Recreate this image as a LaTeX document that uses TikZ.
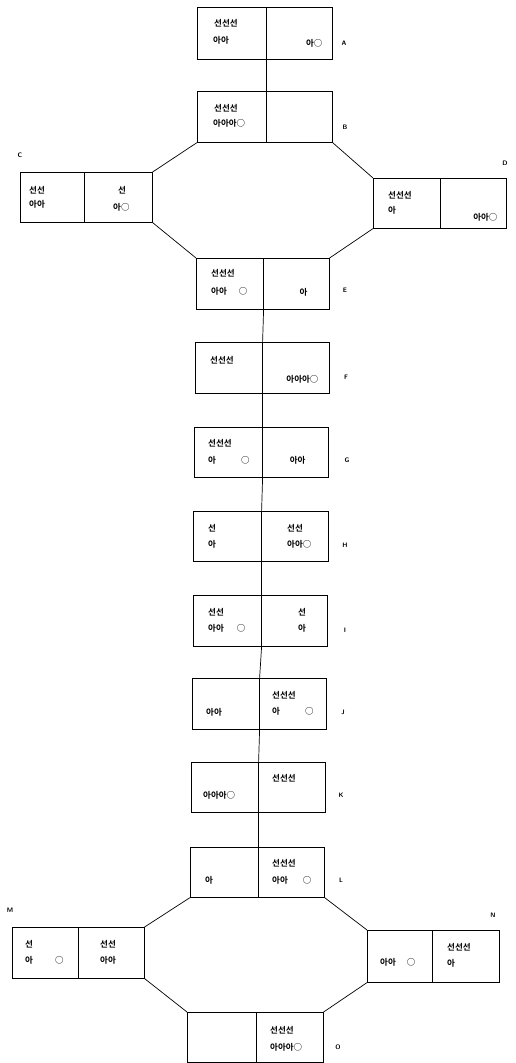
\documentclass[tikz,border=0pt]{standalone}
\usepackage{fontspec}
\newfontfamily\cjk{Noto Sans CJK KR}[BoldFont={Noto Sans CJK KR Bold}]
\begin{document}
\begin{tikzpicture}[x=1pt,y=-1pt,
  cell/.style={draw, line width=0.6pt, inner sep=0pt, anchor=north west},
  txt/.style={font=\cjk\bfseries\fontsize{8.5}{10}\selectfont, inner sep=0pt},
  tl/.style={txt, anchor=west},
  tr/.style={txt, anchor=east},
  lab/.style={font=\sffamily\bfseries\fontsize{6.5}{7}\selectfont, inner sep=0pt},
  conn/.style={line width=0.7pt}]
\useasboundingbox (0,0) rectangle (515,1063);
\newcommand\ci{\char"25CB}
% ---------- boxes ----------
% A
\node[cell, minimum width=69pt, minimum height=52pt] (Al) at (197,7) {};
\node[cell, minimum width=66pt, minimum height=52pt] (Ar) at (266,7) {};
% B
\node[cell, minimum width=69pt, minimum height=51pt] (Bl) at (197,91) {};
\node[cell, minimum width=66pt, minimum height=51pt] (Br) at (266,91) {};
% C
\node[cell, minimum width=64pt, minimum height=50pt] (Cl) at (20,172) {};
\node[cell, minimum width=68pt, minimum height=50pt] (Cr) at (84,172) {};
% D
\node[cell, minimum width=67pt, minimum height=50pt] (Dl) at (373,178) {};
\node[cell, minimum width=66pt, minimum height=50pt] (Dr) at (440,178) {};
% E
\node[cell, minimum width=67pt, minimum height=51pt] (El) at (196,258) {};
\node[cell, minimum width=66pt, minimum height=51pt] (Er) at (263,258) {};
% F
\node[cell, minimum width=67pt, minimum height=51pt] (Fl) at (195,342) {};
\node[cell, minimum width=67pt, minimum height=51pt] (Fr) at (262,342) {};
% G
\node[cell, minimum width=68pt, minimum height=50pt] (Gl) at (194,427) {};
\node[cell, minimum width=66pt, minimum height=50pt] (Gr) at (262,427) {};
% H
\node[cell, minimum width=68pt, minimum height=50pt] (Hl) at (193,511) {};
\node[cell, minimum width=67pt, minimum height=50pt] (Hr) at (261,511) {};
% I
\node[cell, minimum width=68pt, minimum height=51pt] (Il) at (193,595) {};
\node[cell, minimum width=66pt, minimum height=51pt] (Ir) at (261,595) {};
% J
\node[cell, minimum width=67pt, minimum height=51pt] (Jl) at (192,678) {};
\node[cell, minimum width=67pt, minimum height=51pt] (Jr) at (259,678) {};
% K
\node[cell, minimum width=67pt, minimum height=50pt] (Kl) at (191,762) {};
\node[cell, minimum width=67pt, minimum height=50pt] (Kr) at (258,762) {};
% L
\node[cell, minimum width=68pt, minimum height=50pt] (Ll) at (190,847) {};
\node[cell, minimum width=66pt, minimum height=50pt] (Lr) at (258,847) {};
% M
\node[cell, minimum width=66pt, minimum height=51pt] (Ml) at (12,927) {};
\node[cell, minimum width=66pt, minimum height=51pt] (Mr) at (78,927) {};
% N
\node[cell, minimum width=65pt, minimum height=52pt] (Nl) at (367,930) {};
\node[cell, minimum width=67pt, minimum height=52pt] (Nr) at (432,930) {};
% O
\node[cell, minimum width=69pt, minimum height=50pt] (Ol) at (187,1012) {};
\node[cell, minimum width=67pt, minimum height=50pt] (Or) at (256,1012) {};
% ---------- connectors ----------
\draw[conn] (Al.south east) -- (Bl.north east);
\draw[conn] (Bl.south west) -- (Cr.north east);
\draw[conn] (Cr.south east) -- (El.north west);
\draw[conn] (Br.south east) -- (Dl.north west);
\draw[conn] (Dl.south west) -- (Er.north east);
\draw[conn] (El.south east) -- (Fl.north east);
\draw[conn] (Fl.south east) -- (Gl.north east);
\draw[conn] (Gl.south east) -- (Hl.north east);
\draw[conn] (Hl.south east) -- (Il.north east);
\draw[conn] (Il.south east) -- (Jl.north east);
\draw[conn] (Jl.south east) -- (Kl.north east);
\draw[conn] (Kl.south east) -- (Ll.north east);
\draw[conn] (Ll.south west) -- (Mr.north east);
\draw[conn] (Mr.south east) -- (Ol.north west);
\draw[conn] (Lr.south east) -- (Nl.north west);
\draw[conn] (Nl.south west) -- (Or.north east);
% ---------- texts ----------
% A
\node[tl] (Al1) at ([shift={(17pt,-16pt)}]Al.north west) {선선선};
\node[tl] (Al2) at ([shift={(16pt,-33pt)}]Al.north west) {아아};
\node[tr] (Ar2) at ([shift={(-10pt,-36pt)}]Ar.north east) {아\ci};
% B
\node[tl] (Bl1) at ([shift={(17pt,-17pt)}]Bl.north west) {선선선};
\node[tl] (Bl2) at ([shift={(16pt,-32pt)}]Bl.north west) {아아아\ci};
% C
\node[tl] (Cl1) at ([shift={(9pt,-18pt)}]Cl.north west) {선선};
\node[tl] (Cl2) at ([shift={(9pt,-32pt)}]Cl.north west) {아아};
\node[tl] (Cr1) at ([shift={(34pt,-18pt)}]Cr.north west) {선};
\node[tl] (Cr2) at ([shift={(29pt,-35pt)}]Cr.north west) {아\ci};
% D
\node[tl] (Dl1) at ([shift={(15pt,-17pt)}]Dl.north west) {선선선};
\node[tl] (Dl2) at ([shift={(15pt,-32pt)}]Dl.north west) {아};
\node[tr] (Dr2) at ([shift={(-9pt,-39pt)}]Dr.north east) {아아\ci};
% E
\node[tl] (El1) at ([shift={(15pt,-15pt)}]El.north west) {선선선};
\node[tl] (El2) at ([shift={(15pt,-33pt)}]El.north west) {아아\hspace{12pt}\ci};
\node[tr] (Er2) at ([shift={(-22pt,-34pt)}]Er.north east) {아};
% F
\node[tl] (Fl1) at ([shift={(15pt,-18pt)}]Fl.north west) {선선선};
\node[tr] (Fr2) at ([shift={(-11pt,-37pt)}]Fr.north east) {아아아\ci};
% G
\node[tl] (Gl1) at ([shift={(14pt,-16pt)}]Gl.north west) {선선선};
\node[tl] (Gl2) at ([shift={(14pt,-33pt)}]Gl.north west) {아\hspace{25pt}\ci};
\node[tr] (Gr2) at ([shift={(-23pt,-33pt)}]Gr.north east) {아아};
% H
\node[tl] (Hl1) at ([shift={(15pt,-17pt)}]Hl.north west) {선};
\node[tl] (Hl2) at ([shift={(15pt,-33pt)}]Hl.north west) {아};
\node[tl] (Hr1) at ([shift={(26pt,-17pt)}]Hr.north west) {선선};
\node[tl] (Hr2) at ([shift={(26pt,-33pt)}]Hr.north west) {아아\ci};
% I
\node[tl] (Il1) at ([shift={(15pt,-17pt)}]Il.north west) {선선};
\node[tl] (Il2) at ([shift={(15pt,-33pt)}]Il.north west) {아아\hspace{13pt}\ci};
\node[tl] (Ir1) at ([shift={(37pt,-17pt)}]Ir.north west) {선};
\node[tl] (Ir2) at ([shift={(37pt,-33pt)}]Ir.north west) {아};
% J
\node[tl] (Jl2) at ([shift={(14pt,-34pt)}]Jl.north west) {아아};
\node[tl] (Jr1) at ([shift={(13pt,-17pt)}]Jr.north west) {선선선};
\node[tl] (Jr2) at ([shift={(13pt,-33pt)}]Jr.north west) {아\hspace{25pt}\ci};
% K
\node[tl] (Kl2) at ([shift={(12pt,-33pt)}]Kl.north west) {아아아\ci};
\node[tl] (Kr1) at ([shift={(14pt,-16pt)}]Kr.north west) {선선선};
% L
\node[tl] (Ll2) at ([shift={(15pt,-33pt)}]Ll.north west) {아};
\node[tl] (Lr1) at ([shift={(14pt,-16pt)}]Lr.north west) {선선선};
\node[tl] (Lr2) at ([shift={(14pt,-33pt)}]Lr.north west) {아아\hspace{15pt}\ci};
% M
\node[tl] (Ml1) at ([shift={(13pt,-17pt)}]Ml.north west) {선};
\node[tl] (Ml2) at ([shift={(13pt,-33pt)}]Ml.north west) {아\hspace{22pt}\ci};
\node[tl] (Mr1) at ([shift={(22pt,-17pt)}]Mr.north west) {선선};
\node[tl] (Mr2) at ([shift={(22pt,-33pt)}]Mr.north west) {아아};
% N
\node[tl] (Nl2) at ([shift={(13pt,-32pt)}]Nl.north west) {아아\hspace{11pt}\ci};
\node[tl] (Nr1) at ([shift={(15pt,-17pt)}]Nr.north west) {선선선};
\node[tl] (Nr2) at ([shift={(15pt,-33pt)}]Nr.north west) {아};
% O
\node[tl] (Or1) at ([shift={(14pt,-18pt)}]Or.north west) {선선선};
\node[tl] (Or2) at ([shift={(14pt,-35pt)}]Or.north west) {아아아\ci};
% ---------- letters ----------
\node[lab] (labA) at (344,43) {A};
\node[lab] (labB) at (345,127) {B};
\node[lab] (labC) at (20,155) {C};
\node[lab] (labD) at (505,163) {D};
\node[lab] (labE) at (345,290) {E};
\node[lab] (labF) at (346,377) {F};
\node[lab] (labG) at (347,460) {G};
\node[lab] (labH) at (345,545) {H};
\node[lab] (labI) at (345,630) {I};
\node[lab] (labJ) at (343,712) {J};
\node[lab] (labK) at (341,795) {K};
\node[lab] (labL) at (341,880) {L};
\node[lab] (labM) at (10,910) {M};
\node[lab] (labN) at (493,915) {N};
\node[lab] (labO) at (338,1047) {O};
\end{tikzpicture}
\end{document}
